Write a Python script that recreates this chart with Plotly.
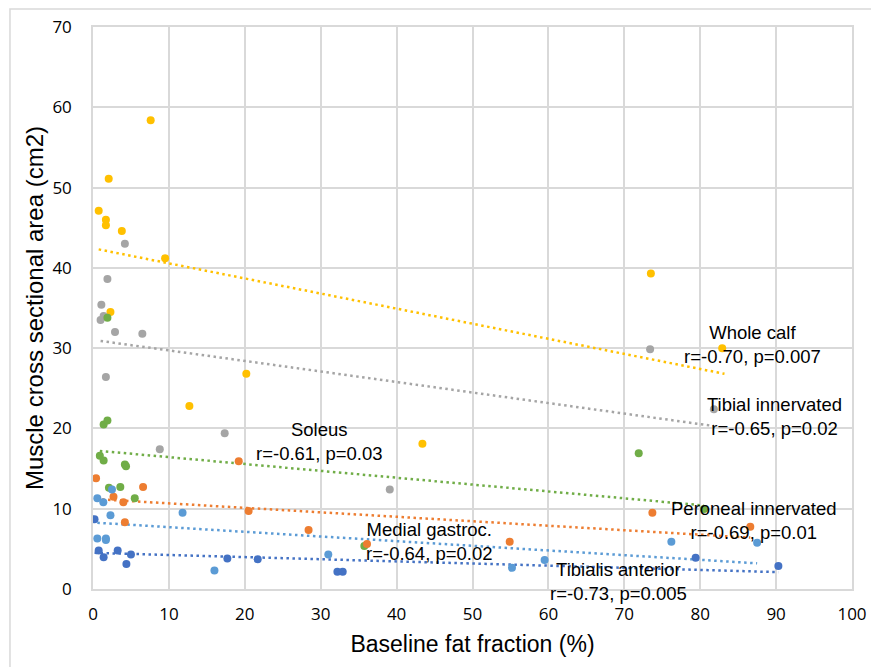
import plotly.graph_objects as go

# Baseline fat fraction (%) and muscle cross sectional area (cm2) per muscle group
whole_calf_x = [0.75, 1.7, 1.7, 2.07, 2.3, 3.8, 7.6, 9.5, 12.7, 20.2, 43.4, 73.5, 82.9]
whole_calf_y = [47.1, 46.0, 45.3, 51.1, 34.5, 44.6, 58.4, 41.2, 22.8, 26.8, 18.1, 39.3, 30.0]

tibial_x = [1.0, 1.1, 1.4, 1.7, 1.9, 2.9, 4.2, 6.5, 8.8, 17.35, 39.1, 73.4, 81.8]
tibial_y = [33.5, 35.4, 34.0, 26.4, 38.6, 32.0, 43.0, 31.8, 17.4, 19.4, 12.4, 29.85, 22.4]

soleus_x = [0.9, 1.4, 1.4, 1.9, 1.9, 2.1, 3.6, 4.2, 4.35, 5.5, 35.75, 71.9, 80.5]
soleus_y = [16.6, 16.0, 20.5, 21.0, 33.8, 12.6, 12.7, 15.5, 15.3, 11.3, 5.35, 16.9, 9.95]

peroneal_x = [0.4, 2.7, 4.0, 4.2, 6.6, 19.2, 20.5, 28.4, 36.1, 54.9, 73.7, 86.6]
peroneal_y = [13.8, 11.5, 10.8, 8.3, 12.7, 15.9, 9.7, 7.35, 5.6, 5.9, 9.5, 7.75]

medial_x = [0.57, 0.57, 1.36, 1.7, 1.7, 2.3, 2.5, 11.8, 16.0, 31.0, 55.2, 59.5, 76.2, 87.5]
medial_y = [11.3, 6.3, 10.8, 6.3, 6.1, 9.2, 12.4, 9.5, 2.3, 4.3, 2.65, 3.6, 5.9, 5.75]

tib_ant_x = [0.2, 0.75, 1.4, 3.25, 4.4, 5.0, 17.7, 21.7, 32.2, 32.9, 79.4, 90.3]
tib_ant_y = [8.7, 4.8, 3.95, 4.8, 3.1, 4.3, 3.8, 3.7, 2.15, 2.15, 3.9, 2.86]

# Linear trendline end points (x from series min to max)
trend_x0 = [0.75, 1.0, 0.9, 0.4, 0.57, 0.2]
trend_x1 = [83.2, 81.8, 80.5, 86.6, 87.5, 90.3]
trend_y0 = [42.3, 30.9, 17.2, 11.2, 8.25, 4.5]
trend_y1 = [26.8, 20.3, 10.4, 6.4, 3.2, 2.1]

series_names = ["Whole calf", "Tibial innervated", "Soleus",
                "Peroneal innervated", "Medial gastroc.", "Tibialis anterior"]
stats_text = ["r=-0.70, p=0.007", "r=-0.65, p=0.02", "r=-0.61, p=0.03",
              "r=-0.69, p=0.01", "r=-0.64, p=0.02", "r=-0.73, p=0.005"]
label_x = [86.9, 89.85, 29.8, 87.1, 44.3, 69.3]
label_y = [30.5, 21.5, 18.4, 8.55, 5.9, 0.9]

colors = ["#FFC000", "#A5A5A5", "#70AD47", "#ED7D31", "#5B9BD5", "#4472C4"]
xs = [whole_calf_x, tibial_x, soleus_x, peroneal_x, medial_x, tib_ant_x]
ys = [whole_calf_y, tibial_y, soleus_y, peroneal_y, medial_y, tib_ant_y]

fig = go.Figure()

for i in range(6):
    fig.add_trace(go.Scatter(
        x=[trend_x0[i], trend_x1[i]], y=[trend_y0[i], trend_y1[i]],
        mode="lines", line=dict(color=colors[i], width=2.5, dash="2.5px,3.5px"),
        hoverinfo="skip", showlegend=False))

for i in range(6):
    fig.add_trace(go.Scatter(
        x=xs[i], y=ys[i], mode="markers", name=series_names[i],
        marker=dict(color=colors[i], size=8, line=dict(width=0)),
        showlegend=False))

for i in range(6):
    fig.add_annotation(
        x=label_x[i], y=label_y[i], xref="x", yref="y",
        text=series_names[i] + "<br>" + stats_text[i],
        showarrow=False, xanchor="center", yanchor="middle", align="center",
        font=dict(family="Liberation Sans, Arial, sans-serif", size=18.5, color="#000000"))

grid = "#D9D9D9"
tick_font = dict(family="Open Sans, sans-serif", size=17, color="#000000")

fig.update_xaxes(
    range=[0, 100], tickmode="linear", tick0=0, dtick=10,
    showgrid=True, gridcolor=grid, gridwidth=1.5,
    showline=True, linecolor=grid, linewidth=1.5, mirror=True,
    zeroline=False, ticks="", tickfont=tick_font, ticklabelstandoff=9,
    title=dict(text="Baseline fat fraction (%)",
               font=dict(family="Liberation Sans, Arial, sans-serif", size=23, color="#000000"),
               standoff=12))
fig.update_yaxes(
    range=[0, 70], tickmode="linear", tick0=0, dtick=10,
    showgrid=True, gridcolor=grid, gridwidth=1.5,
    showline=True, linecolor=grid, linewidth=1.5, mirror=True,
    zeroline=False, ticks="", tickfont=tick_font, ticklabelstandoff=16,
    title=dict(text="Muscle cross sectional area (cm2)",
               font=dict(family="Liberation Sans, Arial, sans-serif", size=24, color="#000000"),
               standoff=2))

# Light chart-area frame
fig.add_shape(type="rect", xref="paper", yref="paper",
              x0=-0.1094, x1=1.04, y0=-0.16, y1=1.032,
              line=dict(color="#D9D9D9", width=1.5), fillcolor="rgba(0,0,0,0)",
              layer="below")

fig.update_layout(
    width=871, height=667,
    margin=dict(l=93, r=19, t=27, b=78, autoexpand=False),
    plot_bgcolor="#FFFFFF", paper_bgcolor="#FFFFFF",
    showlegend=False)

fig.write_html("out.html")
